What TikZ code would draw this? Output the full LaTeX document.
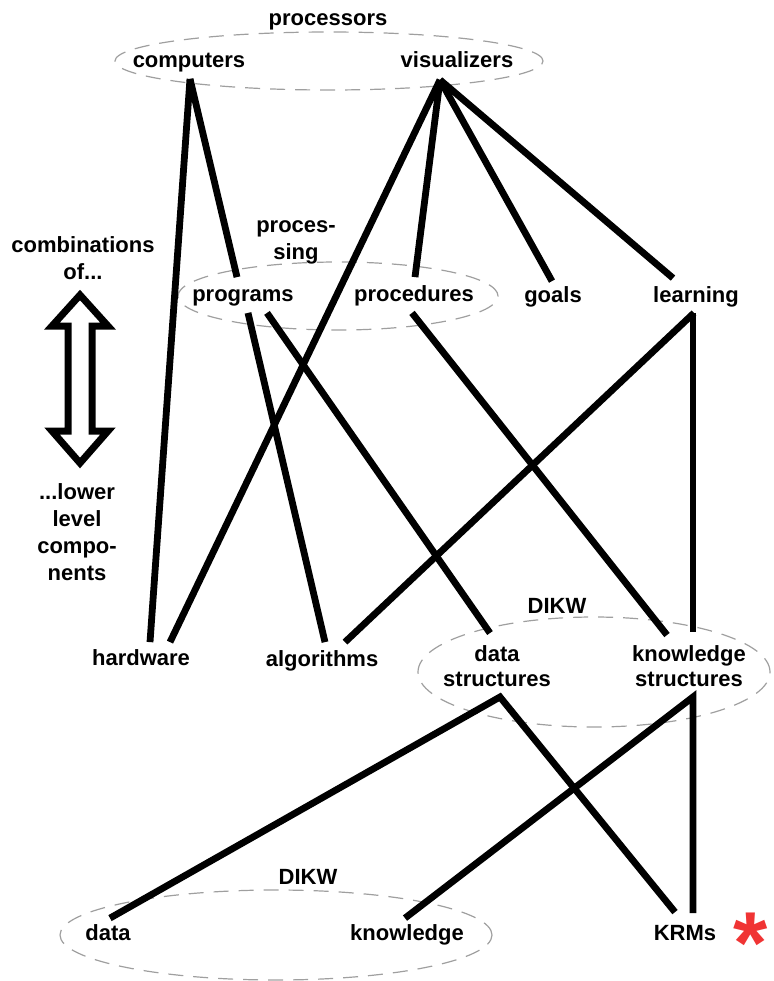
\documentclass[tikz,border=0pt]{standalone}
\usepackage{fontspec}
\setmainfont{Liberation Sans}
\usepackage{tikz}
\usetikzlibrary{calc,shapes.geometric}
\definecolor{starred}{RGB}{240,52,52}

\begin{document}
\begin{tikzpicture}[x=0.5pt, y=-0.5pt]
\tikzset{term/.style={font=\bfseries\fontsize{11}{13}\selectfont, text height=8pt, text depth=2.5pt, inner sep=3pt},
twoterm/.style={font=\bfseries\fontsize{11}{12.5}\selectfont, align=center, inner sep=3pt},
sidenote/.style={font=\bfseries\fontsize{11}{13.4}\selectfont, align=center, inner sep=0},
ring/.style={ellipse, draw=gray!75, dash pattern=on 7.5pt off 5pt, line width=0.6pt, inner sep=0},
link/.style={line width=3.4pt}}

\useasboundingbox (0,0) rectangle (774,981);

% groups
\node (procring) [ring, minimum width=214pt, minimum height=29pt] at (329,61) {};
\node (pingring) [ring, minimum width=160pt, minimum height=34pt] at (338,296) {};
\node (structring) [ring, minimum width=176pt, minimum height=55pt] at (594,672) {};
\node (dikwring) [ring, minimum width=216pt, minimum height=45pt] at (276,935) {};

\node (proclabel) [term] at (328,20) {processors};
\node (pinglabel) [sidenote] at (296,242) {proces-\\sing};
\node (structlabel) [term] at (557,608) {DIKW};
\node (dikwlabel) [term] at (308,879) {DIKW};

\node (computers) [term] at (189,62) {computers};
\node (visualizers) [term] at (457,62) {visualizers};
\node (programs) [term] at (243,296) {programs};
\node (procedures) [term] at (414,296) {procedures};
\node (goals) [term] at (553,297) {goals};
\node (learning) [term] at (696,297) {learning};
\node (hardware) [term] at (141,660) {hardware};
\node (algorithms) [term] at (322,661) {algorithms};
\node (dstruct) [twoterm] at (497,666) {data\\structures};
\node (kstruct) [twoterm] at (689,666) {knowledge\\structures};
\node (data) [term] at (108,935) {data};
\node (knowledge) [term] at (407,935) {knowledge};
\node (krms) [term] at (685,935) {KRMs};
\node (mark) [text=starred, font=\bfseries\fontsize{44}{44}\selectfont, inner sep=0] at (751,929)
  {\raisebox{-0.38em}[0.36em][0.1em]{*}};

% the scale arrow on the left
\node (upnote) [sidenote] at (83,258) {combinations\\of...};
\node (downnote) [sidenote] at (77,532) {...lower\\level\\compo-\\nents};
\draw[line width=3.5pt, miter limit=20] (80,295) -- (108,326) -- (92,326) -- (92,431) -- (108,431)
  -- (80,463) -- (52,431) -- (68,431) -- (68,326) -- (52,326) -- cycle;

%% Edges
\draw[link] ($(computers.south)+(1,0)$) -- ($(hardware.north)+(9,-1)$);
\draw[link] ($(computers.south)+(1,0)$) -- ($(programs.north)+(-6,-2)$);
\draw[link] ($(visualizers.south)+(-17,1)$) -- ($(hardware.north)+(29,-1)$);
\draw[link] ($(visualizers.south)+(-17,1)$) -- ($(procedures.north)+(1,-2)$);
\draw[link] ($(visualizers.south)+(-17,1)$) -- ($(goals.north)+(-1,1)$);
\draw[link] ($(visualizers.south)+(-17,1)$) -- ($(learning.north)+(-23,-2)$);
\draw[link] ($(programs.south)+(5,0)$) -- ($(algorithms.north)+(3,-2)$);
\draw[link] ($(programs.south)+(24,0)$) -- ($(dstruct.north)+(-7,-6)$);
\draw[link] ($(procedures.south)+(-2,0)$) -- ($(kstruct.north)+(-22,-4)$);
\draw[link] ($(learning.south)+(-2,-1)$) -- ($(algorithms.north)+(23,-2)$);
\draw[link] ($(learning.south)+(-3,-1)$) -- ($(kstruct.north)+(4,-7)$);
\draw[link] ($(data.north)+(2,0)$) -- ($(dstruct.south)+(3,4)$) -- ($(krms.north)+(-10,-6)$);
\draw[link] ($(knowledge.north)+(-2,0)$) -- ($(kstruct.south)+(4,4)$) -- ($(krms.north)+(8,-5)$);

\end{tikzpicture}
\end{document}
